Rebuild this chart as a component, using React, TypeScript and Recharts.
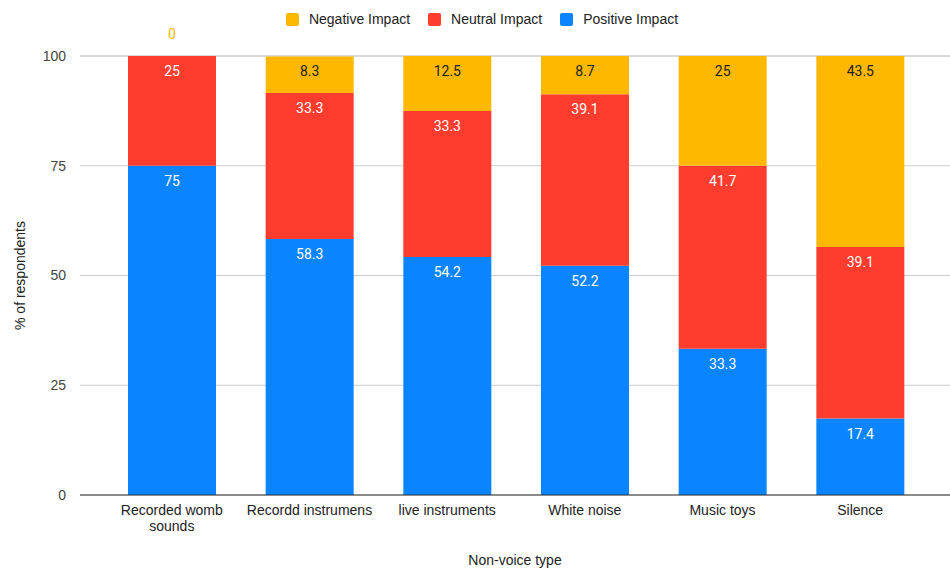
import React from "react";
import {
  Bar,
  BarChart,
  CartesianGrid,
  LabelList,
  Legend,
  XAxis,
  YAxis,
} from "recharts";

const categories = [
  "Recorded womb sounds",
  "Recordd instrumens",
  "live instruments",
  "White noise",
  "Music toys",
  "Silence",
];
const positiveImpact = [75, 58.3, 54.2, 52.2, 33.3, 17.4];
const neutralImpact = [25, 33.3, 33.3, 39.1, 41.7, 39.1];
const negativeImpact = [0, 8.3, 12.5, 8.7, 25, 43.5];
const yTicks = [0, 25, 50, 75, 100];

const FONT = "'Liberation Sans', Arial, sans-serif";
const LABEL_FONT = "Roboto, 'Liberation Sans', sans-serif";
const BLUE = "#0a84ff";
const RED = "#ff3d2e";
const YELLOW = "#ffb800";

// legend order is top-down, the stack goes bottom-up
const series = [
  { key: "negative", name: "Negative Impact", color: YELLOW },
  { key: "neutral", name: "Neutral Impact", color: RED },
  { key: "positive", name: "Positive Impact", color: BLUE },
];

const data = categories.map((name, i) => ({
  name,
  positive: positiveImpact[i],
  neutral: neutralImpact[i],
  negative: negativeImpact[i],
}));

function LegendContent() {
  return (
    <div
      style={{
        height: 38,
        display: "flex",
        alignItems: "center",
        justifyContent: "center",
        paddingLeft: 14,
        fontFamily: FONT,
        fontSize: 14,
        color: "#222",
      }}
    >
      {series.map((s) => (
        <div
          key={s.key}
          style={{ display: "flex", alignItems: "center", margin: "0 9px" }}
        >
          <span
            style={{
              width: 13,
              height: 13,
              borderRadius: 2,
              background: s.color,
              marginRight: 10,
            }}
          />
          {s.name}
        </div>
      ))}
    </div>
  );
}

function labelText(x: number, y: number, fill: string, value: any) {
  return (
    <text
      x={x}
      y={y}
      fill={fill}
      fontSize={14}
      fontFamily={LABEL_FONT}
      textAnchor="middle"
      dominantBaseline="central"
    >
      {value}
    </text>
  );
}

function makeLabel(textColor: string) {
  return (props: any) => {
    const { x, y, width, value } = props;
    if (Number(value) === 0) return null;
    return labelText(Number(x) + Number(width) / 2, Number(y) + 15, textColor, value);
  };
}

// neutral segment label; also puts the "0" of a zero-height negative segment above the bar
function neutralLabel(props: any) {
  const { x, y, width, value, index } = props;
  const cx = Number(x) + Number(width) / 2;
  const neg = negativeImpact[index];
  return (
    <g>
      {labelText(cx, Number(y) + 15, "#fff", value)}
      {neg === 0 && labelText(cx, Number(y) - 22, YELLOW, neg)}
    </g>
  );
}

function CategoryTick(props: any) {
  const { x, y, payload } = props;
  const words: string[] = payload.value.split(" ");
  // Recorded womb sounds is the only one that wraps
  const lines =
    payload.value.length > 19
      ? [words.slice(0, -1).join(" "), words[words.length - 1]]
      : [payload.value];
  return (
    <text
      x={x}
      y={y}
      fill="#222"
      fontSize={14}
      fontFamily={FONT}
      textAnchor="middle"
    >
      {lines.map((l, i) => (
        <tspan key={i} x={x} dy={i === 0 ? 12 : 16}>
          {l}
        </tspan>
      ))}
    </text>
  );
}

export default function App() {
  return (
    <div
      style={{
        position: "absolute",
        left: 0,
        top: 0,
        width: 950,
        height: 570,
        background: "#fff",
      }}
    >
      <BarChart
        width={950}
        height={570}
        data={data}
        margin={{ top: 18, right: 0, bottom: 0, left: 0 }}
        style={{ fontFamily: FONT }}
      >
        <Legend
          verticalAlign="top"
          wrapperStyle={{ top: 0 }}
          content={<LegendContent />}
        />
        <CartesianGrid vertical={false} stroke="#cccccc" />
        <XAxis
          dataKey="name"
          height={75}
          padding={{ left: 23, right: 21 }}
          tickLine={false}
          axisLine={{ stroke: "#333" }}
          tick={<CategoryTick />}
          interval={0}
          label={{
            value: "Non-voice type",
            position: "insideBottom",
            offset: 5,
            fill: "#222",
            fontSize: 14,
            fontFamily: FONT,
          }}
        />
        <YAxis
          width={80}
          domain={[0, 100]}
          ticks={yTicks}
          tickLine={false}
          axisLine={false}
          tickMargin={8}
          tick={{ fill: "#444", fontSize: 14, fontFamily: FONT }}
          label={(p: any) => {
            const vb = p.viewBox;
            const cy = vb.y + vb.height / 2;
            return (
              <text
                x={20}
                y={cy}
                transform={`rotate(-90 20 ${cy})`}
                fill="#222"
                fontSize={14}
                fontFamily={FONT}
                textAnchor="middle"
                dominantBaseline="central"
              >
                % of respondents
              </text>
            );
          }}
        />
        <Bar
          dataKey="positive"
          name="Positive Impact"
          stackId="a"
          fill={BLUE}
          barSize={88}
          isAnimationActive={false}
        >
          <LabelList dataKey="positive" content={makeLabel("#fff")} />
        </Bar>
        <Bar
          dataKey="neutral"
          name="Neutral Impact"
          stackId="a"
          fill={RED}
          barSize={88}
          isAnimationActive={false}
        >
          <LabelList dataKey="neutral" content={neutralLabel} />
        </Bar>
        <Bar
          dataKey="negative"
          name="Negative Impact"
          stackId="a"
          fill={YELLOW}
          barSize={88}
          isAnimationActive={false}
        >
          <LabelList dataKey="negative" content={makeLabel("#222")} />
        </Bar>
      </BarChart>
    </div>
  );
}
